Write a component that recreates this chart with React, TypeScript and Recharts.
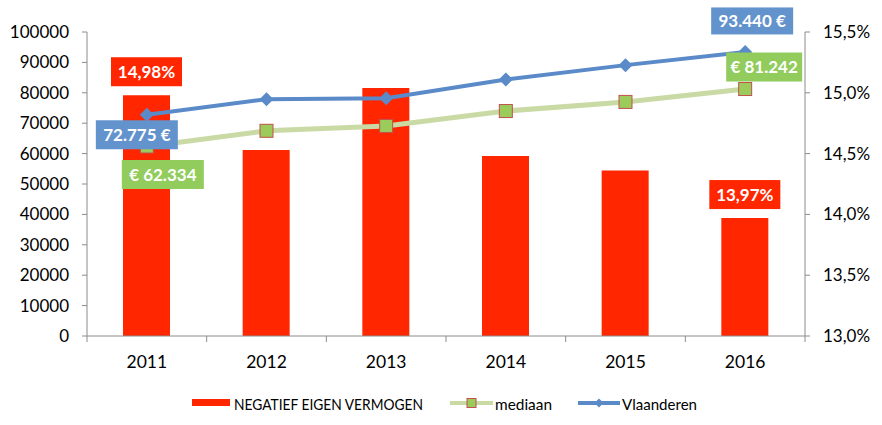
import React from 'react';
import { ComposedChart, Bar, Line, XAxis, YAxis, Legend, LabelList } from 'recharts';

const years = ['2011', '2012', '2013', '2014', '2015', '2016'];
const negatiefEigenVermogen = [14.98, 14.53, 15.04, 14.48, 14.36, 13.97];
const mediaan = [62334, 67500, 69100, 74000, 77000, 81242];
const vlaanderen = [72775, 77900, 78200, 84400, 89100, 93440];
const leftTicks = [0, 10000, 20000, 30000, 40000, 50000, 60000, 70000, 80000, 90000, 100000];
const rightTicks = [13, 13.5, 14, 14.5, 15, 15.5];
const labelledIdx = [0, 5];

const data = years.map((year, i) => ({
  year,
  neg: negatiefEigenVermogen[i],
  mediaan: mediaan[i],
  vlaanderen: vlaanderen[i],
}));

const W = 882;
const H = 425;
const M = { top: 32, right: 0, bottom: 11, left: 0 };
const LEFT_W = 87;
const RIGHT_W = 77;
const LEGEND_H = 22;
const XAXIS_H = 56;
const PLOT_BOTTOM = H - M.bottom - LEGEND_H - XAXIS_H;
const BAND = (W - LEFT_W - RIGHT_W) / years.length;
const FONT = 'Lato, "Open Sans", sans-serif';

const RED = '#ff2600';
const BLUE_LINE = '#5a8ac8';
const BLUE_BOX = '#6393cc';
const GREEN_LINE = '#c9daa5';
const GREEN_BOX = '#91cc5c';
const GREEN_FILL = '#9bcb5b';
const MARKER_EDGE = '#c0504d';
const AXIS = '#8c8c8c';

const fmtEUR = (v: number) => v.toLocaleString('de-DE');

// label box layout (offset of box centre from the point)
const blueLabelLayout: Record<number, { dx: number; dy: number; w: number; h: number }> = {
  0: { dx: -10, dy: 20, w: 82, h: 29 },
  5: { dx: 7, dy: -31, w: 82, h: 27 },
};
const greenLabelLayout: Record<number, { dx: number; dy: number; w: number; h: number }> = {
  0: { dx: 16, dy: 28, w: 82, h: 29 },
  5: { dx: 19, dy: -22, w: 76, h: 29 },
};

const XTick = (props: any) => {
  const { x, payload, index } = props;
  const ay = PLOT_BOTTOM;
  return (
    <g>
      <line x1={x - BAND / 2} x2={x - BAND / 2} y1={ay} y2={ay + 6} stroke={AXIS} />
      {index === years.length - 1 && (
        <line x1={x + BAND / 2} x2={x + BAND / 2} y1={ay} y2={ay + 6} stroke={AXIS} />
      )}
      <text x={x} y={ay + 32} textAnchor="middle" fontSize={17.5} fontFamily={FONT} fill="#000">
        {payload.value}
      </text>
    </g>
  );
};

const BarLabel = (props: any) => {
  const { x, y, width, value, index } = props;
  if (!labelledIdx.includes(index)) return null;
  const cx = x + width / 2;
  const cy = y - 23.5;
  const w = 71;
  const h = 29;
  return (
    <g>
      <rect x={cx - w / 2} y={cy - h / 2} width={w} height={h} fill={RED} />
      <text x={cx} y={cy + 6} textAnchor="middle" fontSize={17} fontWeight="bold" fontFamily={FONT} fill="#fff">
        {String(value.toFixed(2)).replace('.', ',') + '%'}
      </text>
    </g>
  );
};

const makeLineLabel = (layout: typeof blueLabelLayout, fill: string, fmt: (v: number) => string) => (props: any) => {
  const { x, y, value, index } = props;
  const l = layout[index];
  if (!l) return null;
  const cx = x + l.dx;
  const cy = y + l.dy;
  return (
    <g>
      <rect x={cx - l.w / 2} y={cy - l.h / 2} width={l.w} height={l.h} fill={fill} />
      <text x={cx} y={cy + 6} textAnchor="middle" fontSize={17} fontWeight="bold" fontFamily={FONT} fill="#fff">
        {fmt(value)}
      </text>
    </g>
  );
};

const BlueLabel = makeLineLabel(blueLabelLayout, BLUE_BOX, (v) => fmtEUR(v) + ' €');
const GreenLabel = makeLineLabel(greenLabelLayout, GREEN_BOX, (v) => '€ ' + fmtEUR(v));

const SquareDot = (props: any) => {
  const { cx, cy, index } = props;
  return (
    <rect key={`sq-${index}`} x={cx - 6.5} y={cy - 6.5} width={13} height={13} fill={GREEN_FILL} stroke={MARKER_EDGE} strokeWidth={1} />
  );
};

const DiamondDot = (props: any) => {
  const { cx, cy, index } = props;
  const r = 7;
  return (
    <polygon key={`dm-${index}`} points={`${cx},${cy - r} ${cx + r},${cy} ${cx},${cy + r} ${cx - r},${cy}`} fill={BLUE_LINE} />
  );
};

const LegendContent = () => (
  <div style={{ position: 'relative', width: W, height: LEGEND_H, fontFamily: FONT, color: '#000' }}>
    <svg width={W} height={LEGEND_H} style={{ position: 'absolute', left: 0, top: 0 }}>
      <rect x={192} y={7} width={38} height={7} fill={RED} />
      <text x={234} y={18} fontSize={15} fontFamily={FONT} textLength={189} lengthAdjust="spacingAndGlyphs">
        NEGATIEF EIGEN VERMOGEN
      </text>
      <line x1={450} x2={493} y1={11} y2={11} stroke={GREEN_LINE} strokeWidth={4} />
      <rect x={467} y={6.5} width={9} height={9} fill={GREEN_FILL} stroke={MARKER_EDGE} />
      <text x={495} y={18} fontSize={15} fontFamily={FONT} textLength={57} lengthAdjust="spacingAndGlyphs">
        mediaan
      </text>
      <line x1={578} x2={620} y1={11} y2={11} stroke={BLUE_LINE} strokeWidth={4} />
      <polygon points="599,6.5 603.5,11 599,15.5 594.5,11" fill={BLUE_LINE} />
      <text x={622} y={18} fontSize={15} fontFamily={FONT} textLength={75} lengthAdjust="spacingAndGlyphs">
        Vlaanderen
      </text>
    </svg>
  </div>
);

export default function App() {
  return (
    <div style={{ position: 'absolute', left: 0, top: 0, width: W, height: H, background: '#fff', fontFamily: FONT }}>
      <ComposedChart width={W} height={H} data={data} margin={M} barSize={47}>
        <XAxis
          dataKey="year"
          height={XAXIS_H}
          axisLine={{ stroke: AXIS }}
          tickLine={false}
          tick={<XTick />}
          interval={0}
        />
        <YAxis
          yAxisId="left"
          orientation="left"
          width={LEFT_W}
          domain={[0, 100000]}
          ticks={leftTicks}
          interval={0}
          axisLine={{ stroke: AXIS }}
          tickLine={{ stroke: AXIS }}
          tickSize={5}
          tickMargin={13}
          tick={{ fontSize: 17, fill: '#000', fontFamily: FONT }}
        />
        <YAxis
          yAxisId="right"
          orientation="right"
          width={RIGHT_W}
          domain={[13, 15.5]}
          ticks={rightTicks}
          interval={0}
          axisLine={{ stroke: AXIS }}
          tickLine={{ stroke: AXIS }}
          tickSize={5}
          tickMargin={13}
          tickFormatter={(v: number) => v.toFixed(1).replace('.', ',') + '%'}
          tick={{ fontSize: 17, fill: '#000', fontFamily: FONT }}
        />
        <Bar yAxisId="right" dataKey="neg" name="NEGATIEF EIGEN VERMOGEN" fill={RED} isAnimationActive={false}>
          <LabelList dataKey="neg" content={<BarLabel />} />
        </Bar>
        <Line
          yAxisId="left"
          dataKey="mediaan"
          name="mediaan"
          stroke={GREEN_LINE}
          strokeWidth={5}
          dot={<SquareDot />}
          activeDot={false}
          isAnimationActive={false}
        >
          <LabelList dataKey="mediaan" content={<GreenLabel />} />
        </Line>
        <Line
          yAxisId="left"
          dataKey="vlaanderen"
          name="Vlaanderen"
          stroke={BLUE_LINE}
          strokeWidth={4}
          dot={<DiamondDot />}
          activeDot={false}
          isAnimationActive={false}
        >
          <LabelList dataKey="vlaanderen" content={<BlueLabel />} />
        </Line>
        <Legend verticalAlign="bottom" align="left" height={LEGEND_H} content={<LegendContent />} />
      </ComposedChart>
    </div>
  );
}
